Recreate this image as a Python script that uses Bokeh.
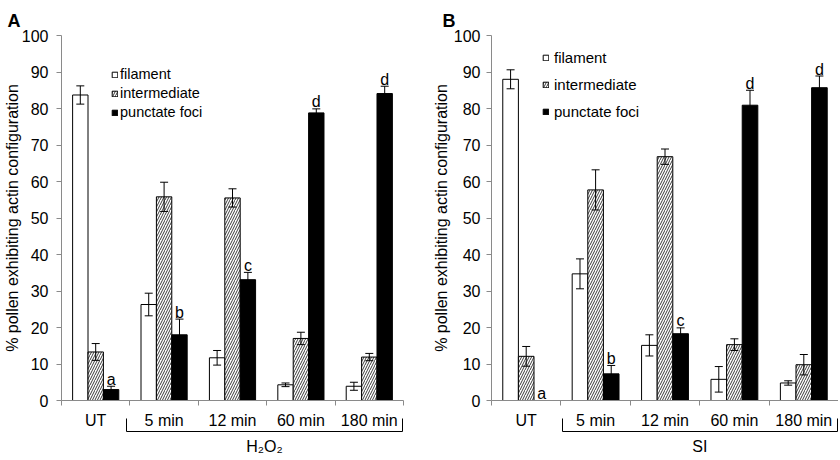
from bokeh.plotting import figure
from bokeh.layouts import row
from bokeh.models import (ColumnDataSource, FixedTicker, Whisker, TeeHead, Legend,
                          LegendItem, LinearAxis)
from bokeh.core.properties import value
from bokeh.embed import file_html
from bokeh.resources import INLINE

# ---------------- data ----------------
categories = ["UT", "5 min", "12 min", "60 min", "180 min"]
series_names = ["filament", "intermediate", "punctate foci"]

a_filament = [83.7, 26.3, 11.7, 4.3, 3.9]
a_filament_err = [2.5, 3.1, 2.0, 0.5, 1.1]
a_intermediate = [13.3, 55.8, 55.5, 17.0, 11.9]
a_intermediate_err = [2.3, 4.0, 2.5, 1.7, 1.0]
a_punctate = [3.0, 18.0, 33.1, 78.8, 84.1]
a_punctate_err = [0.9, 4.3, 2.0, 1.1, 2.0]
a_letters = ["a", "b", "c", "d", "d"]
a_group = "H₂O₂"

b_filament = [88.0, 34.7, 15.1, 5.8, 4.8]
b_filament_err = [2.6, 4.1, 2.9, 3.5, 0.6]
b_intermediate = [12.1, 57.7, 66.8, 15.3, 9.8]
b_intermediate_err = [2.7, 5.5, 2.1, 1.6, 2.8]
b_punctate = [0.0, 7.3, 18.3, 80.9, 85.7]
b_punctate_err = [0.0, 2.3, 1.6, 4.1, 3.2]
b_letters = ["a", "b", "c", "d", "d"]
b_group = "SI"

y_ticks = list(range(0, 101, 10))
y_title = "% pollen exhibiting actin configuration"

FONT = "Liberation Sans"
GREY = "#8a8a8a"
BAR_W = 0.225
H = 460
TOP, BOTTOM = 35, 60


def build(letter, fil, fil_e, inter, inter_e, punc, punc_e, letters, group,
          W, L, R, tick_standoff, title_standoff, letter_offset,
          bracket_left, legend_xy, legend_font, legend_spacing, legend_standoff):
    fw = W - L - R
    ux = 5.0 / fw
    p = figure(width=W, height=H, x_range=(0, 5), y_range=(0, 100),
               output_backend="svg", toolbar_location=None,
               min_border_left=L, min_border_right=R, min_border_top=TOP,
               min_border_bottom=BOTTOM)
    p.xgrid.visible = False
    p.ygrid.visible = False
    p.outline_line_color = None
    p.background_fill_color = "white"
    p.border_fill_color = "white"

    # panel letter
    p.title.text = letter
    p.title.align = "left"
    p.title.offset = letter_offset
    p.title.standoff = 10
    p.title.text_line_height = 0.8
    p.title.text_font = FONT
    p.title.text_font_size = "18px"
    p.title.text_font_style = "bold"
    p.title.text_color = "black"

    n = len(categories)
    centers = [i + 0.5 for i in range(n)]
    styles = [
        dict(fill_color="white"),
        dict(fill_color="white", hatch_pattern="/", hatch_color="#3c3c3c",
             hatch_scale=5, hatch_weight=1),
        dict(fill_color="black"),
    ]
    vals = [fil, inter, punc]
    errs = [fil_e, inter_e, punc_e]
    renderers = []
    wx, wu, wl = [], [], []
    for k in range(3):
        xs = [c + (k - 1) * BAR_W for c in centers]
        keep = [i for i in range(n) if vals[k][i] > 0]
        src = ColumnDataSource(dict(x=[xs[i] for i in keep],
                                    top=[vals[k][i] for i in keep]))
        r = p.vbar(x="x", top="top", bottom=0, width=BAR_W, source=src,
                   line_color="black", line_width=1, **styles[k])
        renderers.append(r)
        for i in keep:
            if errs[k][i] > 0:
                wx.append(xs[i])
                wu.append(vals[k][i] + errs[k][i])
                wl.append(vals[k][i] - errs[k][i])
    wsrc = ColumnDataSource(dict(x=wx, upper=wu, lower=wl))
    p.add_layout(Whisker(source=wsrc, base="x", upper="upper", lower="lower",
                         line_color="black", line_width=1, level="overlay",
                         upper_head=TeeHead(size=8, line_color="black", line_width=1),
                         lower_head=TeeHead(size=8, line_color="black", line_width=1)))

    # significance letters above punctate foci bars
    lx = [c + BAR_W for c in centers]
    ly = [punc[i] + punc_e[i] for i in range(n)]
    p.text(x=lx, y=ly, text=letters, text_font=value(FONT), text_font_size="16px",
           text_align="center", text_baseline="alphabetic", y_offset=-7,
           text_color="black")

    # y axis
    ya = p.yaxis[0]
    ya.ticker = FixedTicker(ticks=y_ticks)
    ya.axis_line_color = GREY
    ya.major_tick_line_color = GREY
    ya.major_tick_out = 5
    ya.major_tick_in = 0
    ya.minor_tick_line_color = None
    ya.major_label_text_font = FONT
    ya.major_label_text_font_size = "16px"
    ya.major_label_text_color = "black"
    ya.major_label_standoff = tick_standoff
    ya.axis_label = y_title
    ya.axis_label_text_font = FONT
    ya.axis_label_text_font_size = "16px"
    ya.axis_label_text_font_style = "normal"
    ya.axis_label_text_color = "black"
    ya.axis_label_standoff = title_standoff

    # x axis: labels at category centres, ticks at category boundaries
    xa = p.xaxis[0]
    xa.ticker = FixedTicker(ticks=centers, minor_ticks=list(range(n + 1)))
    xa.major_label_overrides = {c: cat for c, cat in zip(centers, categories)}
    xa.axis_line_color = GREY
    xa.major_tick_line_color = None
    xa.major_tick_out = 0
    xa.major_tick_in = 0
    xa.minor_tick_line_color = GREY
    xa.minor_tick_out = 5
    xa.minor_tick_in = 0
    xa.major_label_text_font = FONT
    xa.major_label_text_font_size = "16px"
    xa.major_label_text_color = "black"
    xa.major_label_text_line_height = 1.0
    xa.major_label_standoff = 6

    # bracket under the treated groups, drawn as a bounded axis
    right = 5.0 - 1 * ux
    mid = (bracket_left + right) / 2
    bax = LinearAxis(ticker=FixedTicker(ticks=[mid], minor_ticks=[bracket_left, right]),
                     bounds=(bracket_left, right),
                     major_label_overrides={mid: group},
                     axis_line_color="black", axis_line_width=1,
                     major_tick_line_color=None, major_tick_in=0, major_tick_out=0,
                     minor_tick_line_color="black", minor_tick_in=13, minor_tick_out=0,
                     major_label_standoff=6, major_label_text_font=FONT,
                     major_label_text_line_height=1.0,
                     major_label_text_font_size="16px", major_label_text_color="black")
    p.add_layout(bax, "below")

    legend = Legend(items=[LegendItem(label=nm, renderers=[r])
                           for nm, r in zip(series_names, renderers)],
                    location=legend_xy, glyph_width=7, glyph_height=7,
                    label_height=16, spacing=legend_spacing, padding=0, margin=0,
                    border_line_color=None, background_fill_alpha=0,
                    label_text_font=FONT, label_text_font_size=legend_font,
                    label_text_color="black", label_standoff=legend_standoff)
    p.add_layout(legend)
    return p


pA = build("A", a_filament, a_filament_err, a_intermediate, a_intermediate_err,
           a_punctate, a_punctate_err, a_letters, a_group,
           W=420, L=61, R=17, tick_standoff=8, title_standoff=-2, letter_offset=-54,
           bracket_left=0.95, legend_xy=(50, 280), legend_font="14.5px",
           legend_spacing=3, legend_standoff=2)
pB = build("B", b_filament, b_filament_err, b_intermediate, b_intermediate_err,
           b_punctate, b_punctate_err, b_letters, b_group,
           W=418, L=71, R=0, tick_standoff=6, title_standoff=1, letter_offset=-49,
           bracket_left=1.02, legend_xy=(51, 280), legend_font="15px",
           legend_spacing=10, legend_standoff=5)

layout = row(pA, pB, spacing=0)
open("out.html", "w").write(file_html(layout, INLINE))
